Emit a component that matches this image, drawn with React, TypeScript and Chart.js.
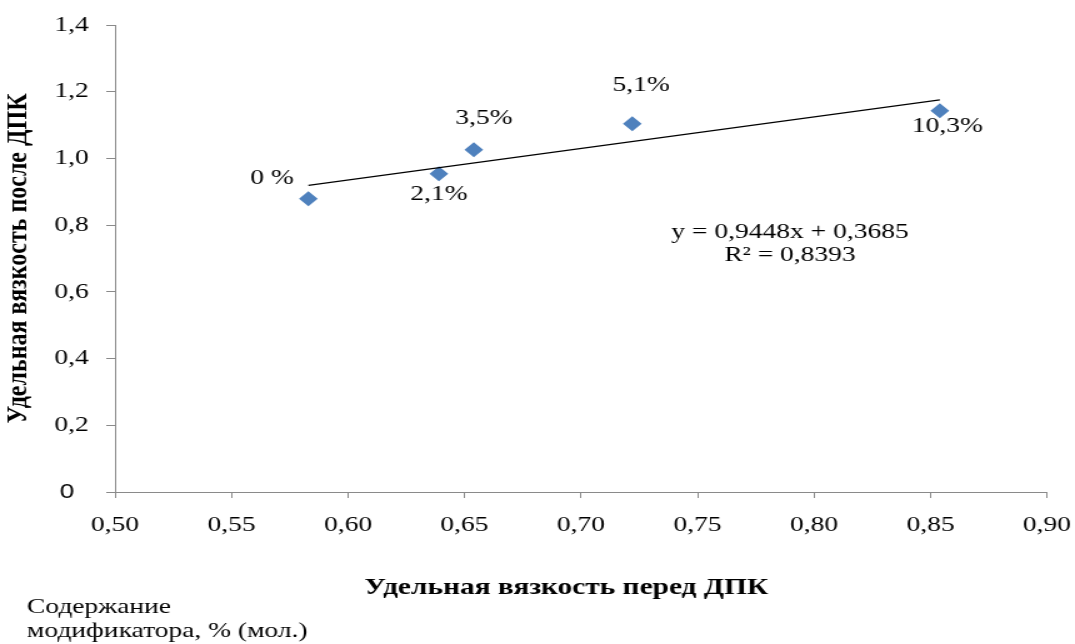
import React, { useEffect, useRef } from 'react';
import { Chart, registerables } from 'chart.js';

Chart.register(...registerables);

// ---- Data ----
const xBefore = [0.583, 0.639, 0.654, 0.722, 0.854];
const yAfter = [0.879, 0.954, 1.026, 1.104, 1.143];
const pointLabels = ['0 %', '2,1%', '3,5%', '5,1%', '10,3%'];
const trendSlope = 0.9448;
const trendIntercept = 0.3685;
const equationLines = ['y = 0,9448x + 0,3685', 'R² = 0,8393'];
const xTitle = 'Удельная вязкость перед ДПК';
const yTitle = 'Удельная вязкость после ДПК';
const noteLines = ['Содержание', 'модификатора, % (мол.)'];
const xRange = [0.5, 0.9];
const xStep = 0.05;
const yRange = [0, 1.4];
const yStep = 0.2;

// ---- Styling (internal canvas px; canvas is stretched horizontally like the reference) ----
const INTERNAL_W = 860;
const H = 644;
const labelDx = [-29, 0, 8, 7, 6];
const labelDy = [-21, 20, -32, -39, 15];
const SERIF = '"Liberation Serif", "Times New Roman", serif';

export default function App() {
  const ref = useRef<HTMLCanvasElement | null>(null);

  useEffect(() => {
    const canvas = ref.current;
    if (!canvas) return;

    const textPlugin = {
      id: 'texts',
      afterDraw(chart: any) {
        const ctx = chart.ctx;
        const sx = chart.scales.x;
        const sy = chart.scales.y;
        ctx.save();
        ctx.fillStyle = '#000';
        ctx.textAlign = 'center';
        ctx.textBaseline = 'middle';
        ctx.font = `22px ${SERIF}`;
        pointLabels.forEach((t, i) => {
          const px = sx.getPixelForValue(xBefore[i]) + labelDx[i];
          const py = sy.getPixelForValue(yAfter[i]) + labelDy[i];
          ctx.fillText(t, px, py);
        });
        // equation
        equationLines.forEach((t, i) => {
          ctx.fillText(t, 632, 232 + i * 23);
        });
        // x title
        ctx.font = `bold 23.5px ${SERIF}`;
        ctx.fillText(xTitle, 453, 588);
        // note
        ctx.font = `22px ${SERIF}`;
        ctx.textAlign = 'left';
        noteLines.forEach((t, i) => {
          ctx.fillText(t, 21.6, 607 + i * 24);
        });
        ctx.restore();
      },
    };

    const x0 = xBefore[0];
    const x1 = xBefore[xBefore.length - 1];

    const chart = new Chart(canvas, {
      type: 'scatter',
      data: {
        datasets: [
          {
            type: 'line',
            data: [
              { x: x0, y: trendSlope * x0 + trendIntercept },
              { x: x1, y: trendSlope * x1 + trendIntercept },
            ],
            borderColor: '#000',
            borderWidth: 1.2,
            pointRadius: 0,
            fill: false,
          } as any,
          {
            data: xBefore.map((x, i) => ({ x, y: yAfter[i] })),
            pointStyle: 'rectRot',
            pointRadius: 7.5,
            backgroundColor: '#4F81BD',
            borderColor: '#4F81BD',
            borderWidth: 0,
          },
        ],
      },
      options: {
        responsive: false,
        animation: false,
        devicePixelRatio: 1,
        layout: { padding: { left: 0, top: 25, right: 22.4, bottom: 0 } },
        plugins: { legend: { display: false }, tooltip: { enabled: false } },
        scales: {
          x: {
            type: 'linear',
            min: xRange[0],
            max: xRange[1],
            afterFit: (s: any) => {
              s.height = H - 492;
              s.paddingLeft = 0;
              s.paddingRight = 0;
            },
            border: { display: true, color: '#8a8a8a', width: 1 },
            grid: { display: true, drawOnChartArea: false, drawTicks: true, tickLength: 6, color: '#8a8a8a' },
            ticks: {
              stepSize: xStep,
              padding: 14,
              color: '#000',
              maxRotation: 0,
              autoSkip: false,
              font: { family: SERIF, size: 22 },
              callback: (v: any) => Number(v).toFixed(2).replace('.', ','),
            },
          },
          y: {
            type: 'linear',
            min: yRange[0],
            max: yRange[1],
            afterFit: (s: any) => {
              s.width = 92;
              s.paddingTop = 0;
              s.paddingBottom = 0;
            },
            border: { display: true, color: '#8a8a8a', width: 1 },
            grid: { display: true, drawOnChartArea: false, drawTicks: true, tickLength: 7, color: '#8a8a8a' },
            title: {
              display: true,
              text: yTitle,
              color: '#000',
              font: { family: SERIF, size: 24, weight: 'bold' },
              padding: { top: 0, bottom: 0 },
            },
            ticks: {
              stepSize: yStep,
              padding: 14,
              color: '#000',
              autoSkip: false,
              font: (c: any) =>
                c.tick && Math.abs(c.tick.value) < 1e-9
                  ? { family: '"Liberation Sans", Arial, sans-serif', size: 21 }
                  : { family: SERIF, size: 22 },
              callback: (v: any) => (Math.abs(Number(v)) < 1e-9 ? '0  ' : Number(v).toFixed(1).replace('.', ',')),
            },
          },
        },
      },
      plugins: [textPlugin],
    });

    return () => chart.destroy();
  }, []);

  return (
    <div style={{ position: 'absolute', left: 0, top: 0, width: 1075, height: H, background: '#fff' }}>
      <canvas
        ref={ref}
        width={INTERNAL_W}
        height={H}
        style={{ width: '1075px', height: `${H}px`, display: 'block' }}
      />
    </div>
  );
}
